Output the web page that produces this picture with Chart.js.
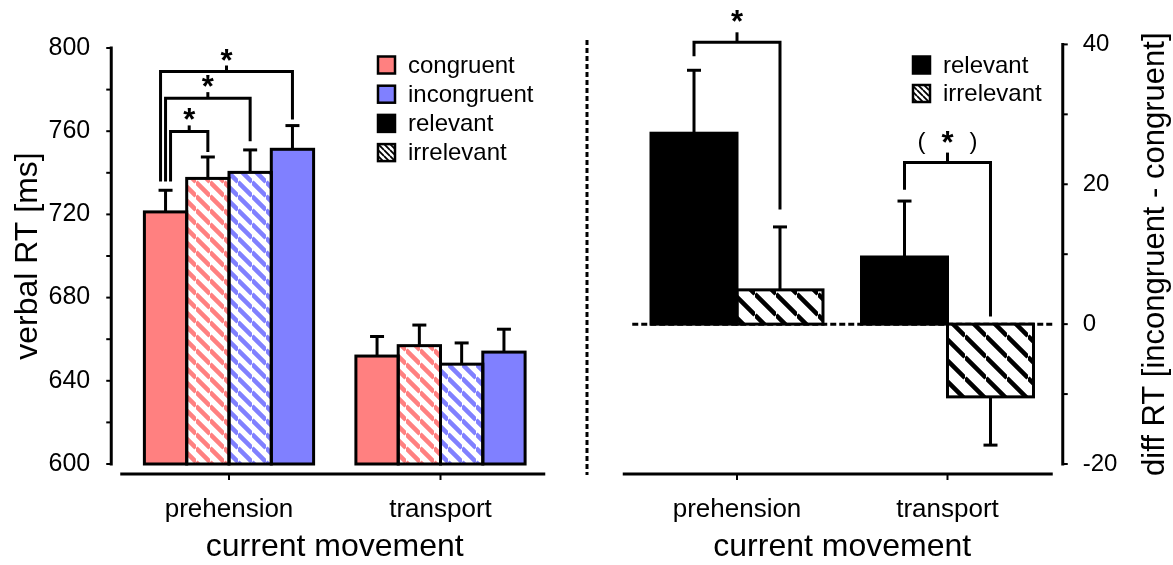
<!DOCTYPE html>
<html>
<head>
<meta charset="utf-8">
<script src="https://cdn.jsdelivr.net/npm/chart.js@4"></script>
<style>
body { margin: 0; background: #fff; }
#wrap { position: relative; width: 1173px; height: 565px; }
canvas { position: absolute; top: 0; }
</style>
</head>
<body>
<div id="wrap">
  <canvas id="left" width="590" height="565" style="left:0"></canvas>
  <canvas id="right" width="586" height="565" style="left:587px"></canvas>
</div>
<script>
// ---- data ----
const categories = ['prehension', 'transport'];

// left panel: verbal RT [ms]
const congruentRelevant = [721.2, 651.9];
const congruentIrrelevant = [737.3, 656.9];
const incongruentIrrelevant = [740.2, 648.0];
const incongruentRelevant = [751.3, 653.8];
const congruentRelevantErr = [10.4, 9.4];
const congruentIrrelevantErr = [10.3, 9.9];
const incongruentIrrelevantErr = [10.8, 10.2];
const incongruentRelevantErr = [11.4, 11.0];
const rtTicks = [600, 640, 680, 720, 760, 800];

// right panel: diff RT [incongruent - congruent]
const diffRelevant = [27.3, 9.6];
const diffIrrelevant = [4.9, -10.4];
const diffRelevantErr = [9.0, 8.0];
const diffIrrelevantErr = [9.0, -6.9];
const diffTicks = [-20, 0, 20, 40];

// significance brackets (dataset indices, y in data units)
const leftBrackets = [
  { cat: 0, from: 0, to: 1, y: 759.9, yFrom: 735.8, yTo: 750.0, shift: 5, text: '*' },
  { cat: 0, from: 0, to: 2, y: 775.9, yFrom: 735.8, yTo: 755.2, shift: 0, text: '*' },
  { cat: 0, from: 0, to: 3, y: 788.7, yFrom: 735.8, yTo: 765.6, shift: -5, text: '*' }
];
const rightBrackets = [
  { cat: 0, from: 0, to: 1, y: 40.3, yFrom: 38.3, yTo: 16.4, shift: 0, text: '*' },
  { cat: 1, from: 0, to: 1, y: 23.1, yFrom: 19.2, yTo: 1.1, shift: 0, text: '( * )' }
];

const RED = '#ff8080';
const BLUE = '#8080ff';
const FONT = "'Liberation Sans', Arial, sans-serif";

function stripes(color, size, width) {
  const c = document.createElement('canvas');
  c.width = c.height = size;
  const g = c.getContext('2d');
  g.fillStyle = '#fff';
  g.fillRect(0, 0, size, size);
  g.strokeStyle = color;
  g.lineWidth = width;
  g.beginPath();
  for (let k = -1; k <= 1; k++) {
    g.moveTo(0, k * size);
    g.lineTo(size, size + k * size);
  }
  g.stroke();
  return g.createPattern(c, 'repeat');
}

const redHatch = stripes(RED, 14, 4.5);
const blueHatch = stripes(BLUE, 14, 4.5);
const blackHatch = stripes('#000', 21, 4.5);
const smallHatch = stripes('#000', 6, 1.8);

function line(ctx, pts) {
  ctx.beginPath();
  ctx.moveTo(pts[0][0], pts[0][1]);
  for (let i = 1; i < pts.length; i++) ctx.lineTo(pts[i][0], pts[i][1]);
  ctx.stroke();
}

function barX(chart, d, i) {
  return chart.getDatasetMeta(d).data[i].x;
}

function outlineBars(chart) {
  const ctx = chart.ctx;
  ctx.save();
  ctx.strokeStyle = '#000';
  ctx.lineWidth = 3;
  chart.data.datasets.forEach((ds, d) => {
    chart.getDatasetMeta(d).data.forEach(bar => {
      const p = bar.getProps(['x', 'y', 'base', 'width'], true);
      const top = Math.min(p.y, p.base), h = Math.abs(p.base - p.y);
      ctx.strokeRect(p.x - p.width / 2, top, p.width, h);
    });
  });
  ctx.restore();
}

function errorBars(chart, errs, cap) {
  const ctx = chart.ctx, ys = chart.scales.y;
  ctx.save();
  ctx.strokeStyle = '#000';
  ctx.lineWidth = 3;
  chart.data.datasets.forEach((ds, d) => {
    ds.data.forEach((v, i) => {
      const x = barX(chart, d, i);
      const y0 = ys.getPixelForValue(v);
      const y1 = ys.getPixelForValue(v + errs[d][i]);
      line(ctx, [[x, y0], [x, y1]]);
      line(ctx, [[x - cap, y1], [x + cap, y1]]);
    });
  });
  ctx.restore();
}

function brackets(chart, list, stub, lift) {
  const ctx = chart.ctx, ys = chart.scales.y;
  ctx.save();
  ctx.strokeStyle = '#000';
  ctx.fillStyle = '#000';
  ctx.lineWidth = 3;
  list.forEach(b => {
    const x0 = barX(chart, b.from, b.cat) + b.shift;
    const x1 = barX(chart, b.to, b.cat);
    const y = ys.getPixelForValue(b.y);
    line(ctx, [[x0, ys.getPixelForValue(b.yFrom)], [x0, y], [x1, y], [x1, ys.getPixelForValue(b.yTo)]]);
    const xm = (x0 + x1) / 2;
    line(ctx, [[xm, y], [xm, y - stub]]);
    ctx.textAlign = 'center';
    ctx.textBaseline = 'alphabetic';
    ctx.font = 'bold 31px ' + FONT;
    ctx.fillText('*', xm, y - lift + 12);
    if (b.text !== '*') {
      ctx.font = '24px ' + FONT;
      ctx.fillText('(', xm - 26, y - lift + 8);
      ctx.fillText(')', xm + 26, y - lift + 8);
    }
  });
  ctx.restore();
}

function legend(ctx, x, y0, step, items) {
  ctx.save();
  ctx.font = '24px ' + FONT;
  ctx.textBaseline = 'middle';
  ctx.textAlign = 'left';
  items.forEach((it, k) => {
    const y = y0 + k * step;
    ctx.fillStyle = it.fill;
    ctx.fillRect(x, y - 8.5, 17, 17);
    ctx.strokeStyle = '#000';
    ctx.lineWidth = 2.5;
    ctx.strokeRect(x, y - 8.5, 17, 17);
    ctx.fillStyle = '#000';
    ctx.fillText(it.label, x + 30, y + 1);
  });
  ctx.restore();
}

// axis lines drawn detached from the plot like in the original figure
function axes(chart, side, yStep) {
  const ctx = chart.ctx, ys = chart.scales.y, xs = chart.scales.x, a = chart.chartArea;
  ctx.save();
  ctx.strokeStyle = '#000';
  ctx.lineWidth = 3;
  const ax = side === 'left' ? a.left - 12 : a.right + 10;
  const dir = side === 'left' ? -1 : 1;
  line(ctx, [[ax, ys.getPixelForValue(ys.max) - 1.5], [ax, ys.getPixelForValue(ys.min) + 1.5]]);
  ctx.lineWidth = 2;
  for (let v = ys.min; v <= ys.max; v += yStep) {
    const y = ys.getPixelForValue(v);
    line(ctx, [[ax, y], [ax + dir * 5, y]]);
  }
  ctx.lineWidth = 3;
  const yx = a.bottom + 10;
  const x0 = side === 'left' ? a.left - 3 : a.left - 9;
  const x1 = side === 'left' ? a.right - 1 : a.right;
  line(ctx, [[x0, yx], [x1, yx]]);
  ctx.lineWidth = 2;
  categories.forEach((c, i) => {
    const x = xs.getPixelForValue(i);
    line(ctx, [[x, yx], [x, yx + 6]]);
  });
  ctx.restore();
}

const leftDecor = {
  id: 'leftDecor',
  afterDatasetsDraw(chart) {
    const ctx = chart.ctx;
    outlineBars(chart);
    errorBars(chart, [congruentRelevantErr, congruentIrrelevantErr, incongruentIrrelevantErr, incongruentRelevantErr], 7);
    brackets(chart, leftBrackets, 6, 13);
    axes(chart, 'left', 20);
    legend(ctx, 378, 65, 29.2, [
      { fill: RED, label: 'congruent' },
      { fill: BLUE, label: 'incongruent' },
      { fill: '#000', label: 'relevant' },
      { fill: smallHatch, label: 'irrelevant' }
    ]);
    // dashed divider between panels
    ctx.save();
    ctx.strokeStyle = '#000';
    ctx.lineWidth = 3;
    ctx.setLineDash([5, 3]);
    line(ctx, [[587, 40], [587, 475]]);
    ctx.restore();
  }
};

const rightDecor = {
  id: 'rightDecor',
  beforeDatasetsDraw(chart) {
    const ctx = chart.ctx, ys = chart.scales.y, a = chart.chartArea;
    ctx.save();
    ctx.strokeStyle = '#000';
    ctx.lineWidth = 3;
    ctx.setLineDash([6, 3]);
    const y0 = ys.getPixelForValue(0);
    line(ctx, [[a.left + 0.5, y0], [a.right + 1, y0]]);
    ctx.restore();
  },
  afterDatasetsDraw(chart) {
    const ctx = chart.ctx, a = chart.chartArea;
    outlineBars(chart);
    errorBars(chart, [diffRelevantErr, diffIrrelevantErr], 7);
    brackets(chart, rightBrackets, 10, 22);
    axes(chart, 'right', 10);
    legend(ctx, 913 - 587, 65, 28.5, [
      { fill: '#000', label: 'relevant' },
      { fill: smallHatch, label: 'irrelevant' }
    ]);
    ctx.save();
    ctx.translate(568, (a.top + a.bottom) / 2);
    ctx.rotate(-Math.PI / 2);
    ctx.font = '31px ' + FONT;
    ctx.textAlign = 'center';
    ctx.textBaseline = 'middle';
    ctx.fillStyle = '#000';
    ctx.fillText('diff RT [incongruent - congruent]', 0, 0);
    ctx.restore();
  }
};

Chart.defaults.font.family = FONT;
Chart.defaults.color = '#000';

const xAxis = () => ({
  type: 'category',
  grid: { display: false, drawTicks: false },
  border: { display: false },
  ticks: { font: { size: 26 }, padding: 30, color: '#000' },
  title: { display: true, text: 'current movement', font: { size: 32, lineHeight: 1.1 }, padding: { top: 0, bottom: 0 }, color: '#000' },
  afterFit(s) { s.height = 101; }
});

new Chart(document.getElementById('left'), {
  type: 'bar',
  data: {
    labels: categories,
    datasets: [
      { label: 'congruent relevant', data: congruentRelevant, backgroundColor: RED },
      { label: 'congruent irrelevant', data: congruentIrrelevant, backgroundColor: redHatch },
      { label: 'incongruent irrelevant', data: incongruentIrrelevant, backgroundColor: blueHatch },
      { label: 'incongruent relevant', data: incongruentRelevant, backgroundColor: BLUE }
    ]
  },
  options: {
    responsive: false,
    animation: false,
    devicePixelRatio: 1,
    layout: { padding: { top: 40, right: 43.75, left: 0, bottom: 0 } },
    datasets: { bar: { base: rtTicks[0], barPercentage: 1, categoryPercentage: 0.8, borderWidth: 0, inflateAmount: 0 } },
    plugins: { legend: { display: false }, tooltip: { enabled: false } },
    scales: {
      x: xAxis(),
      y: {
        min: rtTicks[0],
        max: rtTicks[rtTicks.length - 1],
        grid: { display: false, drawTicks: false },
        border: { display: false },
        ticks: {
          stepSize: 20,
          font: { size: 25 },
          padding: 33,
          color: '#000',
          callback: v => rtTicks.includes(v) ? v : ''
        },
        title: { display: true, text: 'verbal RT [ms]', font: { size: 32 }, padding: { top: 9, bottom: 9 }, color: '#000' },
        afterFit(s) { s.width = 123.25; }
      }
    }
  },
  plugins: [leftDecor]
});

new Chart(document.getElementById('right'), {
  type: 'bar',
  data: {
    labels: categories,
    datasets: [
      { label: 'relevant', data: diffRelevant, backgroundColor: '#000' },
      { label: 'irrelevant', data: diffIrrelevant, backgroundColor: blackHatch }
    ]
  },
  options: {
    responsive: false,
    animation: false,
    devicePixelRatio: 1,
    layout: { padding: { top: 40, right: 0, left: 44.75, bottom: 0 } },
    datasets: { bar: { barPercentage: 1, categoryPercentage: 0.817, borderWidth: 0, inflateAmount: 0 } },
    plugins: { legend: { display: false }, tooltip: { enabled: false } },
    scales: {
      x: xAxis(),
      y: {
        position: 'right',
        min: diffTicks[0],
        max: diffTicks[diffTicks.length - 1],
        grid: { display: false, drawTicks: false },
        border: { display: false },
        ticks: {
          stepSize: 10,
          font: { size: 24 },
          padding: 30,
          color: '#000',
          callback: v => diffTicks.includes(v) ? v : ''
        },
        afterFit(s) { s.width = 120.25; }
      }
    }
  },
  plugins: [rightDecor]
});
</script>
</body>
</html>
